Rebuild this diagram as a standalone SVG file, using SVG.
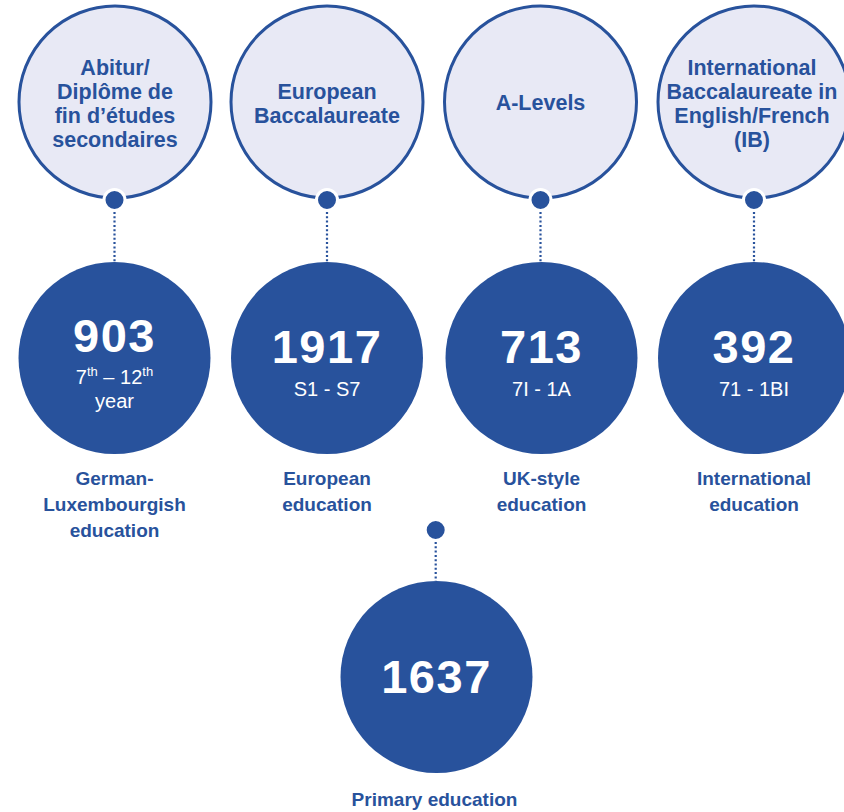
<svg xmlns="http://www.w3.org/2000/svg" width="844" height="812" viewBox="0 0 844 812">
<style>
.light{fill:#e8e9f5;stroke:#28529c;stroke-width:3}
.dark{fill:#28529c}
.t{font-family:"Liberation Sans",Arial,sans-serif;font-weight:bold;fill:#28529c;text-anchor:middle}
.top{font-size:21.5px}
.lab{font-size:19px}
.num{font-family:"Liberation Sans",Arial,sans-serif;font-weight:bold;fill:#ffffff;text-anchor:middle;font-size:47px;letter-spacing:1.5px}
.sub{font-family:"Liberation Sans",Arial,sans-serif;fill:#ffffff;text-anchor:middle;font-size:20px}
.dot{fill:#28529c;stroke:#ffffff;stroke-width:3}
.dl{stroke:#28529c;stroke-width:2.2;stroke-dasharray:2 2.3;fill:none}
</style>
<rect width="844" height="812" fill="#ffffff"/>
<g id="q-abitur">
<circle class="light" cx="115" cy="102" r="96"/>
<text class="t top" x="115" y="75">Abitur/</text>
<text class="t top" x="115" y="99">Diplôme de</text>
<text class="t top" x="115" y="123">fin d’études</text>
<text class="t top" x="115" y="147">secondaires</text>
</g>
<g id="q-eb">
<circle class="light" cx="327" cy="102" r="96"/>
<text class="t top" x="327" y="99">European</text>
<text class="t top" x="327" y="123">Baccalaureate</text>
</g>
<g id="q-alevels">
<circle class="light" cx="540.5" cy="102" r="96"/>
<text class="t top" x="540.5" y="110">A-Levels</text>
</g>
<g id="q-ib">
<circle class="light" cx="754" cy="102" r="96"/>
<text class="t top" x="752" y="75">International</text>
<text class="t top" x="752" y="99">Baccalaureate in</text>
<text class="t top" x="752" y="123">English/French</text>
<text class="t top" x="752" y="147">(IB)</text>
</g>
<g id="s-german">
<circle class="dark" cx="114.5" cy="358" r="96"/>
<text class="num" x="114.5" y="352">903</text>
<text class="sub" x="114.5" y="384">7<tspan font-size="13" dy="-8">th</tspan><tspan dy="8"> – 12</tspan><tspan font-size="13" dy="-8">th</tspan></text>
<text class="sub" x="114.5" y="408">year</text>
<text class="t lab" x="114.5" y="485">German-</text>
<text class="t lab" x="114.5" y="511">Luxembourgish</text>
<text class="t lab" x="114.5" y="537">education</text>
</g>
<g id="s-european">
<circle class="dark" cx="327" cy="358" r="96"/>
<text class="num" x="327" y="363">1917</text>
<text class="sub" x="327" y="396">S1 - S7</text>
<text class="t lab" x="327" y="485">European</text>
<text class="t lab" x="327" y="511">education</text>
</g>
<g id="s-uk">
<circle class="dark" cx="541.5" cy="358" r="96"/>
<text class="num" x="541.5" y="363">713</text>
<text class="sub" x="541.5" y="396">7I - 1A</text>
<text class="t lab" x="541.5" y="485">UK-style</text>
<text class="t lab" x="541.5" y="511">education</text>
</g>
<g id="s-international">
<circle class="dark" cx="754" cy="358" r="96"/>
<text class="num" x="754" y="363">392</text>
<text class="sub" x="754" y="396">71 - 1BI</text>
<text class="t lab" x="754" y="485">International</text>
<text class="t lab" x="754" y="511">education</text>
</g>
<g id="s-primary">
<circle class="dark" cx="436.5" cy="677" r="96"/>
<text class="num" x="436.5" y="693">1637</text>
<text class="t lab" x="434.5" y="806">Primary education</text>
</g>
<g id="connectors">
<line class="dl" x1="114.5" y1="212" x2="114.5" y2="262"/>
<line class="dl" x1="327" y1="212" x2="327" y2="262"/>
<line class="dl" x1="540.5" y1="212" x2="540.5" y2="262"/>
<line class="dl" x1="754" y1="212" x2="754" y2="262"/>
<line class="dl" x1="435.7" y1="542" x2="435.7" y2="581"/>
<circle class="dot" cx="114.5" cy="200" r="10.5"/>
<circle class="dot" cx="327" cy="200" r="10.5"/>
<circle class="dot" cx="540.5" cy="200" r="10.5"/>
<circle class="dot" cx="754" cy="200" r="10.5"/>
<circle class="dot" cx="435.7" cy="530" r="10.5"/>
</g>
</svg>
